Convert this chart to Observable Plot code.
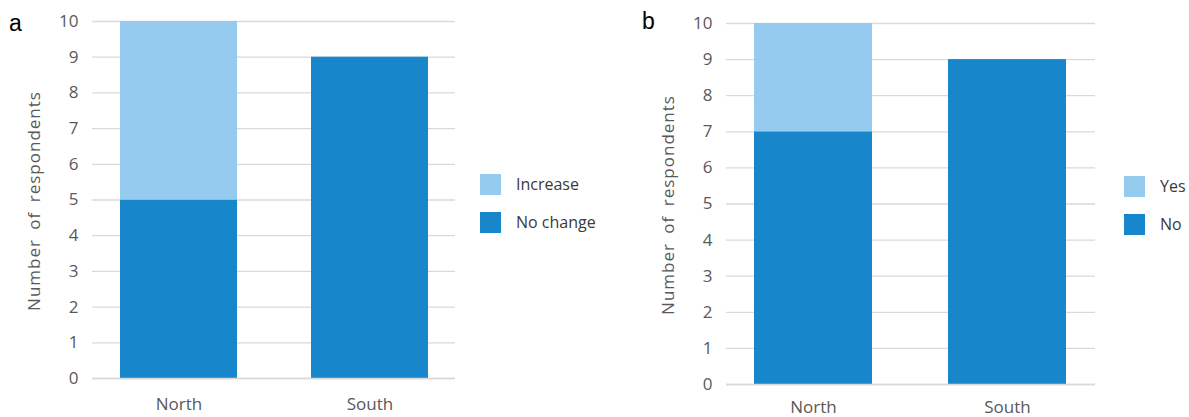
<!DOCTYPE html>
<html>
<head>
<meta charset="utf-8">
<script src="https://cdn.jsdelivr.net/npm/d3@7"></script>
<script src="https://cdn.jsdelivr.net/npm/@observablehq/plot@0.6"></script>
<style>
  body { margin: 0; background: #fff; }
  #root { position: relative; width: 1189px; height: 417px; overflow: hidden; font-family: "Open Sans", sans-serif; }
  .panel { position: absolute; top: 0; }
  .tag { position: absolute; font-family: "Liberation Sans", Arial, sans-serif; font-size: 23px; color: #000; line-height: 1; }
  .legend { position: absolute; font-size: 16px; color: #3a3a3a; font-family: "Open Sans", sans-serif; }
  .legend .item { position: absolute; display: flex; align-items: center; white-space: nowrap; }
  .legend .sw { width: 21px; height: 21px; margin-right: 15px; }
  svg g[aria-label="text"] text { letter-spacing: 1px; word-spacing: 4px; }
</style>
</head>
<body>
<div id="root"></div>
<script>
// ---- data ----
const regions = ["North", "South"];
const yTicks = [0, 1, 2, 3, 4, 5, 6, 7, 8, 9, 10];

const aCategories = ["Increase", "No change"];
const aIncrease = [5, 0];
const aNoChange = [5, 9];

const bCategories = ["Yes", "No"];
const bYes = [3, 0];
const bNo = [7, 9];

const lightBlue = "#95CBEE";
const darkBlue = "#1786CA";

function rows(lowerName, lower, upperName, upper) {
  const out = [];
  regions.forEach((r, i) => {
    out.push({region: r, category: lowerName, value: lower[i]});
    out.push({region: r, category: upperName, value: upper[i]});
  });
  return out;
}

function panel(data, categories, opts) {
  return Plot.plot({
    width: opts.width,
    height: 417,
    marginTop: opts.top,
    marginBottom: opts.bottom,
    marginLeft: 92,
    marginRight: 5,
    style: {fontFamily: "Open Sans, sans-serif", fontSize: "17px", color: "#595959", background: "transparent"},
    x: {domain: regions, paddingInner: 0.39, paddingOuter: 0.145, label: null},
    y: {domain: [0, 10], label: null},
    color: {domain: categories, range: [lightBlue, darkBlue]},
    marks: [
      Plot.ruleY(yTicks, {stroke: "#d9d9d9", strokeWidth: 1.3}),
      Plot.barY(data, {x: "region", y: "value", fill: "category", order: [categories[1], categories[0]]}),
      Plot.ruleY([0], {stroke: "#d9d9d9", strokeWidth: 1.3}),
      Plot.axisY({ticks: yTicks, tickSize: 0, tickPadding: 14, label: null, fill: "#595959"}),
      Plot.axisX({tickSize: 0, tickPadding: opts.xpad, label: null, fill: "#595959"}),
      Plot.text([0], {frameAnchor: "left", textAnchor: "middle", text: () => "Number of respondents", rotate: -90, dx: -58, dy: opts.tdy, fontSize: 17, fill: "#595959"})
    ]
  });
}

const root = document.getElementById("root");

function place(el, left) {
  const d = document.createElement("div");
  d.className = "panel";
  d.style.left = left + "px";
  d.appendChild(el);
  root.appendChild(d);
}

place(panel(rows("No change", aNoChange, "Increase", aIncrease), aCategories, {width: 460, top: 21, bottom: 39, xpad: 19, tdy: 1}), 0);
place(panel(rows("No", bNo, "Yes", bYes), bCategories, {width: 466, top: 23, bottom: 33, xpad: 16, tdy: 1}), 634);

function tag(t, x, y) {
  const d = document.createElement("div");
  d.className = "tag";
  d.textContent = t;
  d.style.left = x + "px";
  d.style.top = y + "px";
  root.appendChild(d);
}
tag("a", 9, 12);
tag("b", 642, 10);

function legend(x, items) {
  const lg = document.createElement("div");
  lg.className = "legend";
  lg.style.left = x + "px";
  lg.style.top = "0px";
  items.forEach(([label, color, y]) => {
    const it = document.createElement("div");
    it.className = "item";
    it.style.top = y + "px";
    const sw = document.createElement("span");
    sw.className = "sw";
    sw.style.background = color;
    const tx = document.createElement("span");
    tx.textContent = label;
    it.appendChild(sw);
    it.appendChild(tx);
    lg.appendChild(it);
  });
  root.appendChild(lg);
}
legend(480, [[aCategories[0], lightBlue, 173], [aCategories[1], darkBlue, 211]]);
legend(1124, [[bCategories[0], lightBlue, 175], [bCategories[1], darkBlue, 213]]);
</script>
</body>
</html>
